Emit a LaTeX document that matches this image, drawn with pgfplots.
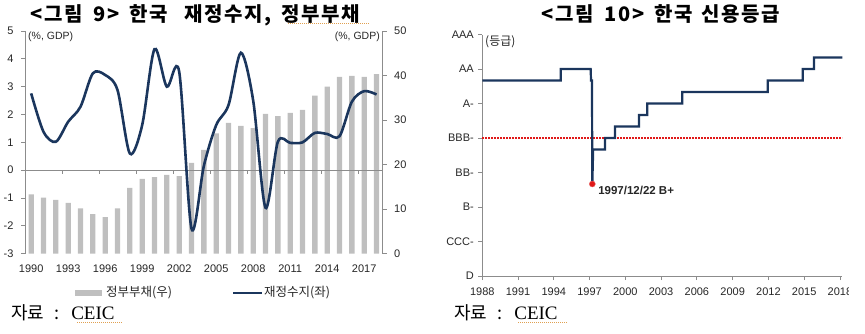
\documentclass[border=0pt]{standalone}
\usepackage{fontspec}
\setmainfont{Liberation Sans}
\newfontfamily\kr{Noto Sans CJK KR}
\newfontfamily\krt[LetterSpace=8]{Noto Sans CJK KR}
\newfontfamily\serifL{Liberation Serif}
\usepackage{pgfplots}
\pgfplotsset{compat=1.18}
\definecolor{navy}{HTML}{1B365D}
\definecolor{bargray}{HTML}{BFBFBF}
\definecolor{axgray}{HTML}{8C8C8C}
\definecolor{txt}{HTML}{262626}
\definecolor{dotred}{HTML}{E01818}
\definecolor{spell}{HTML}{E0A050}

\pgfplotstableread{
year debt
1990 13.3
1991 12.6
1992 12.1
1993 11.4
1994 10.2
1995 8.9
1996 8.2
1997 10.2
1998 14.8
1999 16.8
2000 17.2
2001 17.7
2002 17.4
2003 20.4
2004 23.3
2005 27.0
2006 29.4
2007 28.7
2008 28.2
2009 31.4
2010 30.9
2011 31.6
2012 32.3
2013 35.5
2014 37.5
2015 39.7
2016 39.9
2017 39.7
2018 40.3
}\debt

\pgfplotstableread{
year bal
1990 2.76
1991 1.38
1992 1.02
1993 1.74
1994 2.28
1995 3.48
1996 3.42
1997 2.88
1998 0.60
1999 1.62
2000 4.35
2001 3.00
2002 3.54
2003 -2.10
2004 0.15
2005 1.62
2006 2.34
2007 4.22
2008 2.50
2009 -1.35
2010 1.02
2011 0.98
2012 1.00
2013 1.34
2014 1.30
2015 1.22
2016 2.46
2017 2.84
2018 2.72
}\bal

\begin{document}
\begin{tikzpicture}
\useasboundingbox (0,0) rectangle (865pt,333pt);

\pgfplotsset{
  common/.style={
    scale only axis, anchor=south west,
    /pgf/number format/assume math mode=true,
    tick label style={font=\fontsize{11}{12}\selectfont, text=txt},
    axis line style={draw=axgray, line width=0.8pt},
    major tick length=4pt,
    every tick/.style={draw=axgray, line width=0.8pt},
  }
}

% ---------- left chart: debt bars (right axis)
\begin{axis}[common,
  at={(25pt,79.3pt)}, width=357.7pt, height=222.7pt,
  xmin=1989.5, xmax=2018.5, ymin=0, ymax=50,
  axis y line*=right, axis x line*=bottom,
  x axis line style={draw=none},
  xtick={1990,1993,...,2017}, xtick style={draw=none},
  x tick label style={yshift=-4pt},
  xticklabel={\pgfmathprintnumber[1000 sep={}]{\tick}},
  ytick={0,10,...,50}, tick align=outside,
  y tick label style={xshift=4pt},
  clip=false,
]
\addplot[ybar, bar width=5.3pt, fill=bargray, draw=none] table[x=year,y=debt]{\debt};
\draw[axgray, line width=0.8pt] (axis cs:1989.5,18.75) -- (axis cs:2018.5,18.75);
\draw[axgray, line width=0.8pt] (axis cs:1992.5,18.75) -- ++(0pt,-4pt);
\draw[axgray, line width=0.8pt] (axis cs:1995.5,18.75) -- ++(0pt,-4pt);
\draw[axgray, line width=0.8pt] (axis cs:1998.5,18.75) -- ++(0pt,-4pt);
\draw[axgray, line width=0.8pt] (axis cs:2001.5,18.75) -- ++(0pt,-4pt);
\draw[axgray, line width=0.8pt] (axis cs:2004.5,18.75) -- ++(0pt,-4pt);
\draw[axgray, line width=0.8pt] (axis cs:2007.5,18.75) -- ++(0pt,-4pt);
\draw[axgray, line width=0.8pt] (axis cs:2010.5,18.75) -- ++(0pt,-4pt);
\draw[axgray, line width=0.8pt] (axis cs:2013.5,18.75) -- ++(0pt,-4pt);
\draw[axgray, line width=0.8pt] (axis cs:2016.5,18.75) -- ++(0pt,-4pt);
\end{axis}

% ---------- left chart: balance line (left axis)
\begin{axis}[common,
  at={(25pt,79.3pt)}, width=357.7pt, height=222.7pt,
  xmin=1989.5, xmax=2018.5, ymin=-3, ymax=5,
  axis y line*=left, axis x line=none,
  ytick={-3,...,5}, tick align=outside,
  y tick label style={xshift=-4pt},
  clip=false,
]
\addplot[navy, line width=2.6pt, smooth, no marks] table[x=year,y=bal]{\bal};
\end{axis}

% left chart texts
\node[anchor=west, inner sep=0, font=\fontsize{10.5}{12}\selectfont, text=txt] at (28pt,296.3pt) {(\%, GDP)};
\node[anchor=east, inner sep=0, font=\fontsize{10.5}{12}\selectfont, text=txt] at (380pt,296.3pt) {(\%, GDP)};
\node[anchor=base west, inner sep=0, font=\krt\bfseries\fontsize{20}{22}\selectfont] at (30.5pt,311.5pt) {<그림\hspace{0.55em}9>\hspace{0.5em}한국};
\node[anchor=base west, inner sep=0, font=\krt\bfseries\fontsize{20}{22}\selectfont] at (184pt,311.5pt) {재정수지,};
\node[anchor=base west, inner sep=0, font=\krt\bfseries\fontsize{20}{22}\selectfont] at (281pt,311.5pt) {정부부채};
\draw[spell, line width=0.6pt, dash pattern=on 1pt off 1pt] (288pt,310pt) -- (370pt,310pt);
\fill[bargray] (75pt,37.5pt) rectangle (102pt,43.5pt);
\node[anchor=west, inner sep=0, font=\kr\fontsize{12.5}{14}\selectfont, text=txt] at (106pt,40pt) {정부부채(우)};
\draw[navy, line width=2.4pt] (233pt,40pt) -- (262pt,40pt);
\node[anchor=west, inner sep=0, font=\kr\fontsize{12.5}{14}\selectfont, text=txt] at (264pt,40pt) {재정수지(좌)};
\node[anchor=west, inner sep=0] at (11pt,20pt) {{\kr\fontsize{18}{20}\selectfont 자료\hspace{10pt}:\hspace{12pt}}{\serifL\fontsize{19}{20}\selectfont CEIC}};
\draw[spell, line width=0.6pt, dash pattern=on 1pt off 1pt] (77pt,11pt) -- (123pt,11pt);

% ---------- right chart: credit rating
\begin{axis}[common,
  at={(482.3pt,57pt)}, width=360pt, height=241.5pt,
  xmin=1988, xmax=2018.2, ymin=0, ymax=21,
  axis x line*=bottom, axis y line*=left,
  xtick={1988,1991,...,2018},
  xticklabel={\pgfmathprintnumber[1000 sep={}]{\tick}},
  x tick label style={yshift=-4pt},
  ytick={0,3,...,21},
  yticklabels={D,CCC-,B-,BB-,BBB-,A-,AA,AAA},
  y tick label style={xshift=-1pt},
  tick align=outside,
  clip=false,
]
\addplot[dotred, line width=1.3pt, dash pattern=on 1.3pt off 1.7pt, no marks] coordinates {(1988,12) (2018.2,12)};
\addplot[navy, line width=2.2pt, no marks, line join=miter] coordinates {
(1988,17) (1994.58,17) (1994.58,18) (1997.09,18) (1997.12,17) (1997.2,17) (1997.23,8) (1997.3,11)
(1998.29,11) (1998.29,12) (1999.13,12) (1999.13,13) (2001.15,13) (2001.15,14) (2001.84,14) (2001.84,15)
(2004.78,15) (2004.78,16) (2011.94,16) (2011.94,17) (2014.88,17) (2014.88,18) (2015.83,18) (2015.83,19) (2018.2,19)};
\addplot[only marks, mark=*, mark size=3pt, mark options={fill=dotred, draw=dotred!70!white}] coordinates {(1997.23,8)};
\node[anchor=west, inner sep=0, font=\bfseries\fontsize{11.5}{12}\selectfont, text=txt] at (axis cs:1997.71,7.42) {1997/12/22 B+};
\end{axis}
\fill[white] (849pt,33pt) rectangle (866pt,50pt);

\node[anchor=west, inner sep=0, font=\kr\fontsize{12}{14}\selectfont, text=txt] at (485pt,291pt) {(등급)};
\node[anchor=base west, inner sep=0, font=\krt\bfseries\fontsize{20}{22}\selectfont] at (541.5pt,311.5pt) {<그림\hspace{0.55em}10>\hspace{0.5em}한국};
\node[anchor=base west, inner sep=0, font=\krt\bfseries\fontsize{20}{22}\selectfont] at (701pt,311.5pt) {신용등급};
\node[anchor=west, inner sep=0] at (454pt,20pt) {{\kr\fontsize{18}{20}\selectfont 자료\hspace{10pt}:\hspace{12pt}}{\serifL\fontsize{19}{20}\selectfont CEIC}};
\draw[spell, line width=0.6pt, dash pattern=on 1pt off 1pt] (518pt,11pt) -- (567pt,11pt);
\end{tikzpicture}
\end{document}
